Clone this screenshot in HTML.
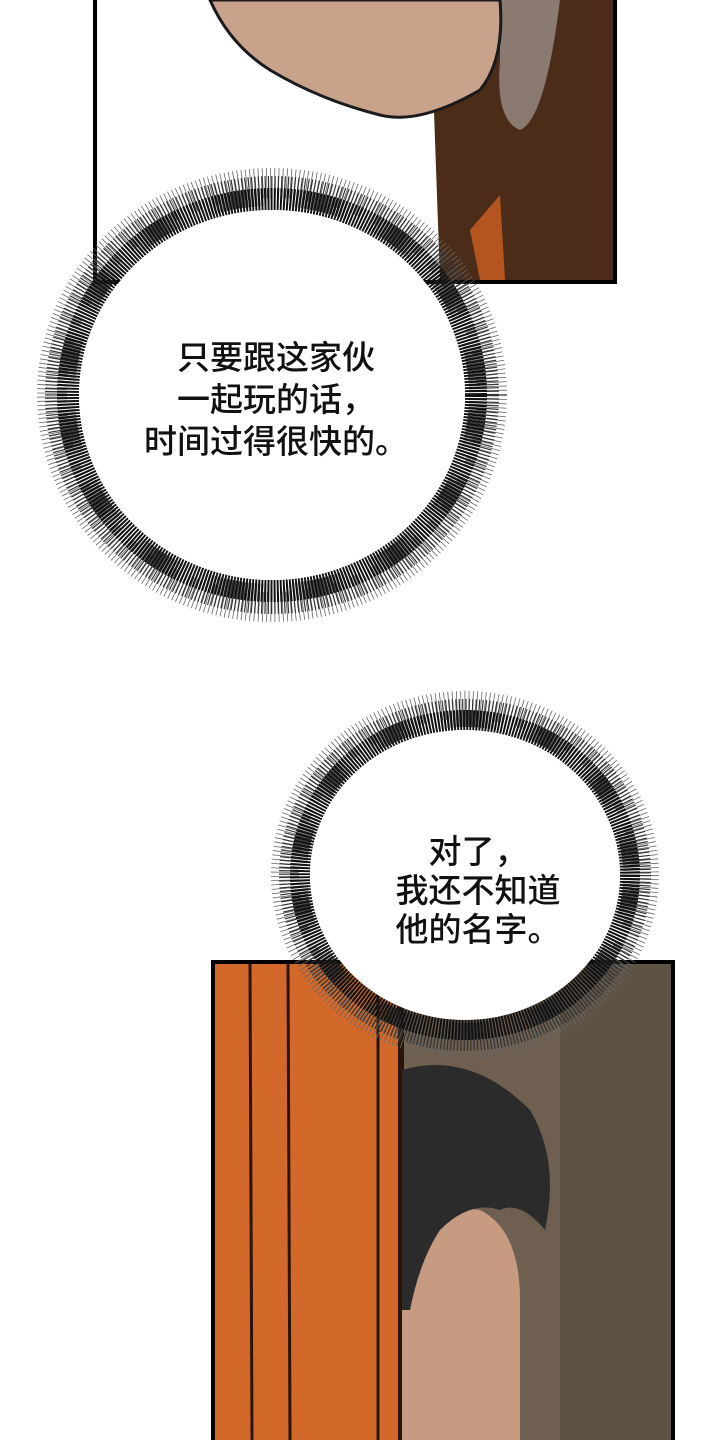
<!DOCTYPE html>
<html><head><meta charset="utf-8"><style>
html,body{margin:0;padding:0;background:#fff;}
body{width:720px;height:1440px;position:relative;overflow:hidden;font-family:"Liberation Sans","Noto Sans CJK SC",sans-serif;}
.t{position:absolute;font-size:33px;font-weight:500;color:#111;text-align:center;line-height:42px;white-space:nowrap;}
</style></head><body>
<svg width="720" height="1440" style="position:absolute;left:0;top:0">
  <rect x="95" y="-5" width="520" height="287" fill="#fff" stroke="#000" stroke-width="4"/>
  <path d="M430 0 L613 0 L613 280 L440 280 Z" fill="#4a2c18"/>
  <path d="M470 230 L500 195 L505 280 L480 280 Z" fill="#b4541e"/>
  <path d="M500 0 L560 0 Q545 120 520 130 Q495 120 500 60 Z" fill="#8a7a70"/>
  <path d="M210 0 L500 0 Q505 60 480 90 Q420 125 380 115 Q320 100 270 70 Q230 45 210 0 Z" fill="#c9a28c" stroke="#1a1a1a" stroke-width="3"/>
  <g transform="translate(272,395)">
    <ellipse rx="220" ry="212" fill="none" stroke="#666" stroke-width="30" stroke-dasharray="0.8 3.2"/>
    <ellipse rx="212" ry="204" fill="none" stroke="#333" stroke-width="30" stroke-dasharray="1.2 2"/>
    <ellipse rx="204" ry="196" fill="none" stroke="#111" stroke-width="22" stroke-dasharray="2 1.2"/>
    <ellipse rx="193" ry="185" fill="#fff"/>
  </g>
  <rect x="213" y="962" width="460" height="480" fill="#6e5f50" stroke="#000" stroke-width="4"/>
  <rect x="560" y="964" width="111" height="476" fill="#5e5244"/>
  <rect x="215" y="964" width="185" height="476" fill="#d2692a"/>
  <line x1="250" y1="964" x2="252" y2="1440" stroke="#2a1508" stroke-width="3"/>
  <line x1="288" y1="964" x2="290" y2="1440" stroke="#2a1508" stroke-width="3"/>
  <line x1="378" y1="964" x2="378" y2="1440" stroke="#2a1508" stroke-width="3"/>
  <rect x="398" y="964" width="6" height="476" fill="#2a1508"/>
  <path d="M402 1300 Q420 1200 480 1210 Q520 1230 520 1300 L520 1440 L402 1440 Z" fill="#c79a82"/>
  <path d="M402 1070 Q470 1050 530 1110 Q560 1160 545 1230 Q520 1200 500 1210 Q470 1200 440 1230 Q420 1260 410 1310 L402 1310 Z" fill="#2b2b2b"/>
  <g transform="translate(465,875)">
    <ellipse rx="180" ry="170" fill="none" stroke="#666" stroke-width="28" stroke-dasharray="0.8 3.2"/>
    <ellipse rx="172" ry="162" fill="none" stroke="#333" stroke-width="28" stroke-dasharray="1.2 2"/>
    <ellipse rx="165" ry="155" fill="none" stroke="#111" stroke-width="20" stroke-dasharray="2 1.2"/>
    <ellipse rx="155" ry="145" fill="#fff"/>
  </g>
</svg>
<div class="t" style="left:126px;top:337px;width:300px;">只要跟这家伙<br>一起玩的话，<br>时间过得很快的。</div>
<div class="t" style="left:378px;top:832px;width:200px;line-height:39px;">对了，<br>我还不知道<br>他的名字。</div>
</body></html>
